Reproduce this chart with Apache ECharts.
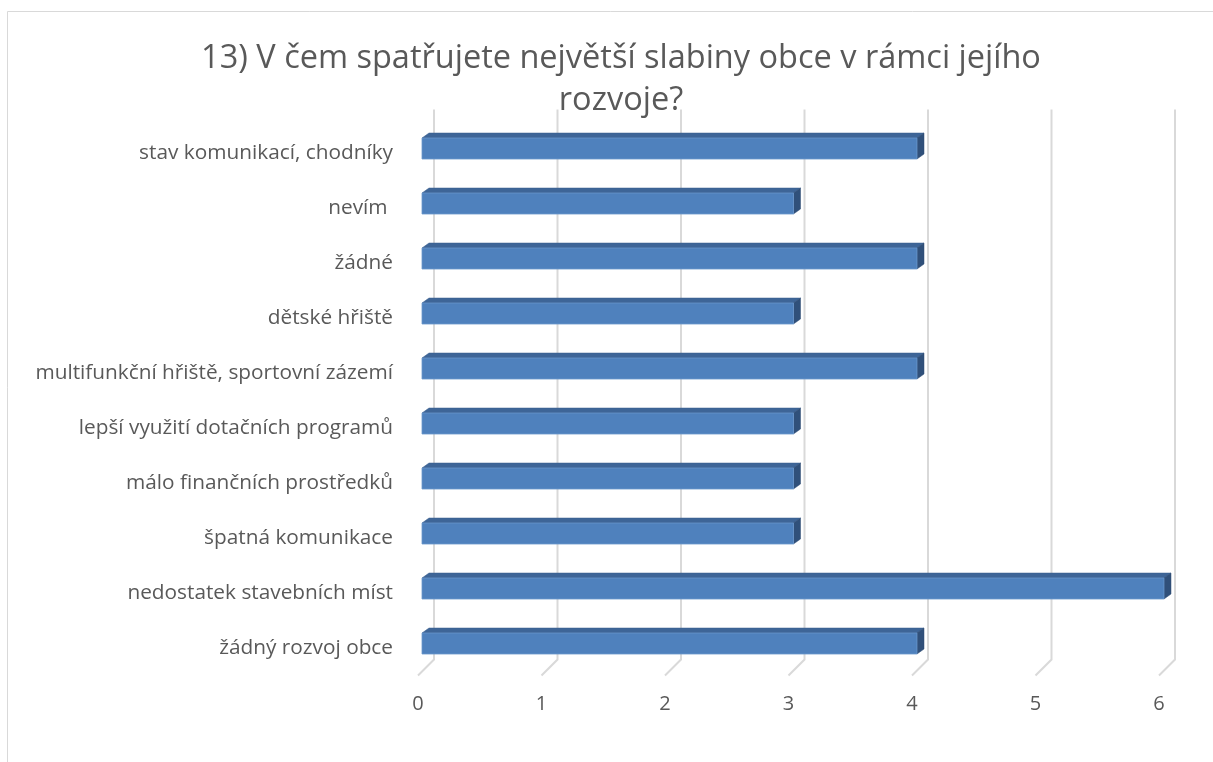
<!DOCTYPE html>
<html><head><meta charset="utf-8">
<script src="https://cdn.jsdelivr.net/npm/echarts@6/dist/echarts.min.js"></script>
<style>html,body{margin:0;padding:0;background:#fff}#c{width:1213px;height:762px}</style>
</head><body><div id="c"></div>
<script>
const titleText = "13) V čem spatřujete největší slabiny obce v rámci jejího\nrozvoje?";
const categories = [
  "stav komunikací, chodníky",
  "nevím ",
  "žádné",
  "dětské hřiště",
  "multifunkční hřiště, sportovní zázemí",
  "lepší využití dotačních programů",
  "málo finančních prostředků",
  "špatná komunikace",
  "nedostatek stavebních míst",
  "žádný rozvoj obce"
];
const values = [4, 3, 4, 3, 4, 3, 3, 3, 6, 4];
const xTicks = [0, 1, 2, 3, 4, 5, 6];

const FONT = "'Open Sans', sans-serif";
const chart = echarts.init(document.getElementById('c'), null, {renderer: 'canvas'});

function barItem(params, api) {
  const v = api.value(0), c = api.value(1);
  const p0 = api.coord([0, c]);
  const p1 = api.coord([v, c]);
  const x0 = p0[0] + 4, x1 = p1[0] + 5;
  const yT = p0[1] - 15, yB = p0[1] + 6;
  const dx = 7, dy = -5;
  return {
    type: 'group',
    children: [
      {type: 'polygon', shape: {points: [[x0, yT], [x0 + dx, yT + dy], [x1 + dx, yT + dy], [x1, yT]]},
       style: {fill: '#3e6597', stroke: '#3a5f8e', lineWidth: 0.5}},
      {type: 'polygon', shape: {points: [[x1, yT], [x1 + dx, yT + dy], [x1 + dx, yB + dy], [x1, yB]]},
       style: {fill: '#30507a', stroke: '#2d4b72', lineWidth: 0.5}},
      {type: 'rect', shape: {x: x0, y: yT, width: x1 - x0, height: yB - yT},
       style: {fill: '#4f81bd', stroke: '#6a97cc', lineWidth: 0.8}}
    ]
  };
}

function gridItem(params, api) {
  const v = api.value(0);
  const cs = params.coordSys;
  const x = api.coord([v, 0])[0];
  const top = cs.y - 16, bot = cs.y + cs.height - 16;
  return {
    type: 'polyline',
    shape: {points: [[x + 16, top], [x + 16, bot], [x, bot + 16]]},
    style: {stroke: '#d9d9d9', lineWidth: 2, fill: null}
  };
}

chart.setOption({
  animation: false,
  backgroundColor: '#fff',
  title: {
    text: titleText, left: 616, top: 33, textAlign: 'center',
    textStyle: {fontFamily: FONT, fontSize: 32.5, fontWeight: 'normal', color: '#595959', lineHeight: 42}
  },
  graphic: [{type: 'rect', shape: {x: 7.5, y: 11.5, width: 1400, height: 1000},
    style: {fill: null, stroke: '#d9d9d9', lineWidth: 1}, z: -10}],
  grid: {left: 418, right: 54, top: 125.5, bottom: 86.5, containLabel: false},
  xAxis: {
    type: 'value', min: 0, max: 6, interval: 1,
    axisLine: {show: false}, axisTick: {show: false}, splitLine: {show: false},
    axisLabel: {fontFamily: FONT, fontSize: 20, color: '#595959', margin: 19,
      formatter: v => xTicks.includes(v) ? String(v) : ''}
  },
  yAxis: {
    type: 'category', data: categories, inverse: true,
    axisLine: {show: false}, axisTick: {show: false}, splitLine: {show: false},
    axisLabel: {fontFamily: FONT, fontSize: 20.8, color: '#595959', margin: 25}
  },
  series: [
    {type: 'custom', renderItem: gridItem, data: xTicks.map(v => [v, 0]), encode: {x: 0, y: 1}, z: 1, silent: true},
    {type: 'custom', renderItem: barItem, data: values.map((v, i) => [v, i]), encode: {x: 0, y: 1}, z: 5}
  ]
});
</script></body></html>
